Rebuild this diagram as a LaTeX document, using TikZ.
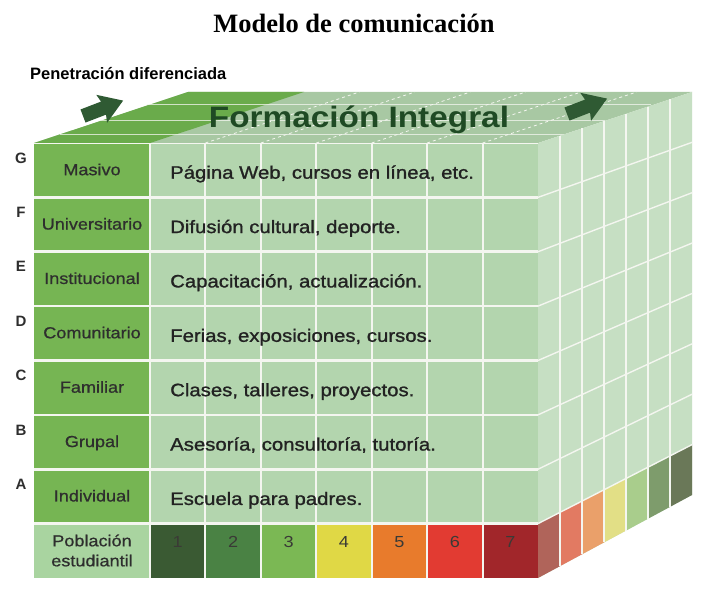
\documentclass[tikz,border=0pt]{standalone}
\usepackage{fontspec}
\setmainfont{Liberation Sans}
\newfontfamily\sfw{Liberation Sans}[FakeStretch=1.13]
\newfontfamily\sfm{Liberation Sans}[FakeStretch=1.13,FakeBold=1.2]
\newfontfamily\sfl{Liberation Sans}[FakeStretch=1.13,FakeBold=0.8]
\newfontfamily\titlef{Liberation Serif}
\definecolor{labc}{HTML}{76B553}
\definecolor{contc}{HTML}{B3D5AE}
\definecolor{sidec}{HTML}{C6DFC3}
\definecolor{topc}{HTML}{A8C8A3}
\definecolor{topl}{HTML}{6AAB4B}
\definecolor{pobc}{HTML}{A9D4A0}
\definecolor{na}{HTML}{3A5A33}
\definecolor{nb}{HTML}{4A8244}
\definecolor{nc}{HTML}{7BB854}
\definecolor{nd}{HTML}{E0D845}
\definecolor{ne}{HTML}{E87B2C}
\definecolor{nf}{HTML}{E23B32}
\definecolor{ng}{HTML}{A1262A}
\definecolor{sa}{HTML}{B0645A}
\definecolor{sb}{HTML}{E27A62}
\definecolor{sc}{HTML}{EAA06A}
\definecolor{sd}{HTML}{E2DF86}
\definecolor{se}{HTML}{A9CD8C}
\definecolor{sf}{HTML}{7E9C6C}
\definecolor{sg}{HTML}{6A7858}
\definecolor{arrc}{HTML}{2F5A33}
\definecolor{formc}{HTML}{1F4A24}
\definecolor{txtc}{HTML}{222222}
\definecolor{labt}{HTML}{2E2E2E}
\definecolor{numt}{HTML}{3A3A36}
\definecolor{linec}{HTML}{F4F6F0}
\newcommand\rowitem[4]{%
  \pgfmathsetmacro\rc{143+54.375*(#2+0.5)}
  \node[letf, anchor=base] (let#1) at (21,{\rc-7}) {#1};
  \node[labf, anchor=base] (lab#1) at (92,{\rc+5}) {#3};
  \node[txtf, anchor=base west] (txt#1) at (170,{\rc+8.5}) {#4};
}
\newcommand\blockarrow[2]{%
  \begin{scope}[shift={(#1,#2)}, rotate=21]
    \fill[arrc] (0,-7) -- (22,-7) -- (20,-15) -- (43,0) -- (20,15) -- (22,7) -- (0,7) -- cycle;
  \end{scope}
}
\begin{document}
\begin{tikzpicture}[x=1pt,y=-1pt,
  gridh/.style={draw=linec, line width=2.6pt},
  gridv/.style={draw=linec, line width=2pt},
  sidel/.style={draw=linec, line width=1.4pt},
  topline/.style={draw=linec, line width=0.9pt, opacity=.75},
  letf/.style={font=\bfseries\fontsize{15}{16}\selectfont, text=labt, inner sep=0},
  labf/.style={font=\sfl\fontsize{16}{19}\selectfont, text=labt, inner sep=0},
  txtf/.style={font=\sfm\fontsize{18}{21}\selectfont, text=txtc, inner sep=0},
  numf/.style={font=\sfw\fontsize{16}{19}\selectfont, text=numt, inner sep=0}]
\useasboundingbox (0,0) rectangle (709,599);
\fill[white] (0,0) rectangle (709,599);

% title and caption
\node[font=\titlef\bfseries\fontsize{26.5}{30}\selectfont, anchor=base, inner sep=0] (title) at (354,33) {Modelo de comunicación};
\node[font=\bfseries\fontsize{16.5}{18}\selectfont, anchor=base west, inner sep=0] (pen) at (30,80) {Penetración diferenciada};

% top face
\fill[topc] (34,143) -- (188,92) -- (692,92) -- (538,143) -- cycle;
\fill[topl] (34,143) -- (188,92) -- (304,92) -- (150,143) -- cycle;
\foreach \yy in {104,120,134} {
  \pgfmathsetmacro\dd{(143-\yy)*154/53}
  \draw[topline] ({34+\dd},\yy) -- ({538+\dd},\yy);
}
\foreach \i in {1,...,6}
  \draw[draw=linec, dashed, line width=0.8pt] ({150+\i*55.43},143) -- ({304+\i*55.43},92);

% side face
\fill[sidec] (538,143) -- (692,92) -- (692,495) -- (538,578) -- cycle;
\foreach \c [count=\i from 0] in {sa,sb,sc,sd,se,sf,sg}
  \fill[\c] ({538+22*\i},{523.625-79*\i/7}) -- ({560+22*\i},{523.625-79*(\i+1)/7})
     -- ({560+22*\i},{578-83*(\i+1)/7}) -- ({538+22*\i},{578-83*\i/7}) -- cycle;
\foreach \j in {1,...,7}
  \draw[sidel] (538,{143+54.375*\j}) -- (692,{92+50.375*\j});
\foreach \i in {1,...,6}
  \draw[sidel] ({538+22*\i},{143-51*\i/7}) -- ({538+22*\i},{578-83*\i/7});

% front face
\fill[labc] (34,143) rectangle (150,523.625);
\fill[pobc] (34,523.625) rectangle (150,578);
\fill[contc] (150,143) rectangle (538,523.625);
\foreach \c [count=\i from 0] in {na,nb,nc,nd,ne,nf,ng}
  \fill[\c] ({150+55.43*\i},523.625) rectangle ({150+55.43*(\i+1)},578);
\foreach \j in {1,...,7}
  \draw[gridh] (34,{143+54.375*\j}) -- (538,{143+54.375*\j});
\foreach \i in {0,...,6}
  \draw[gridv] ({150+55.43*\i},143) -- ({150+55.43*\i},578);
\draw[draw=linec, line width=0.8pt] (34,143) -- (538,143);

% headline on the top face
\node[font=\sfw\bfseries\fontsize{29.5}{32}\selectfont, text=formc, anchor=base, inner sep=0] (form) at (359,128) {Formación Integral};
\blockarrow{83}{116}
\blockarrow{567}{114}

% rows
\rowitem{G}{0}{Masivo}{Página Web, cursos en línea, etc.}
\rowitem{F}{1}{Universitario}{Difusión cultural, deporte.}
\rowitem{E}{2}{Institucional}{Capacitación, actualización.}
\rowitem{D}{3}{Comunitario}{Ferias, exposiciones, cursos.}
\rowitem{C}{4}{Familiar}{Clases, talleres, proyectos.}
\rowitem{B}{5}{Grupal}{Asesoría, consultoría, tutoría.}
\rowitem{A}{6}{Individual}{Escuela para padres.}

% population row
\node[labf, font=\sfl\fontsize{16}{20}\selectfont, align=center] (pob) at (92,550.5) {Población\\estudiantil};
\foreach \n [count=\i from 0] in {1,...,7}
  \node[numf, anchor=base] (num\n) at ({150+55.43*(\i+0.5)},547) {\n};
\end{tikzpicture}
\end{document}
